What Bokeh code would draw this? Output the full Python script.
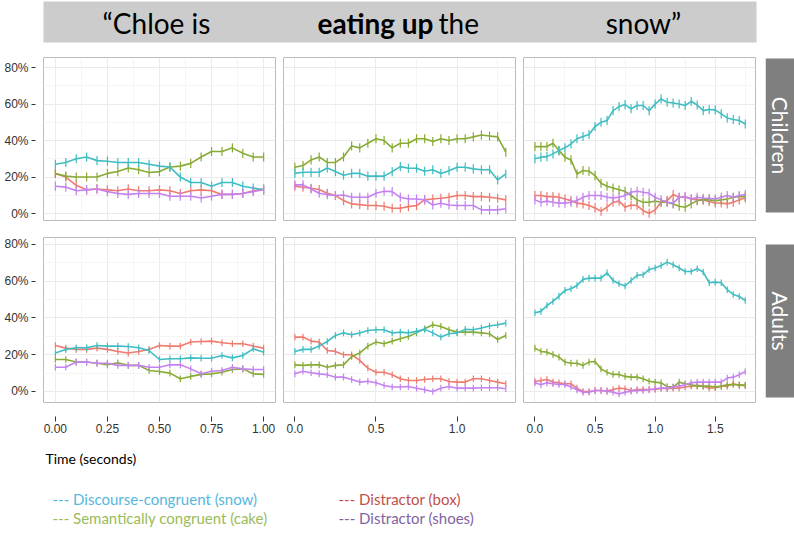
#
# Eye-tracking curves: looks to each picture while hearing "Chloe is eating up the snow"
#
import math
from bokeh.plotting import figure
from bokeh.layouts import column, row
from bokeh.models import Range1d, FixedTicker, PrintfTickFormatter, Label, BoxAnnotation
from bokeh.embed import file_html
from bokeh.resources import INLINE

# Time bins (seconds) for the three windows of the sentence
t_chloe = [0.00, 0.05, 0.10, 0.15, 0.20, 0.25, 0.30, 0.35, 0.40, 0.45, 0.50,
           0.55, 0.60, 0.65, 0.70, 0.75, 0.80, 0.85, 0.90, 0.95, 1.00]
t_eating = [0.00, 0.05, 0.10, 0.15, 0.20, 0.25, 0.30, 0.35, 0.40, 0.45, 0.50,
            0.55, 0.60, 0.65, 0.70, 0.75, 0.80, 0.85, 0.90, 0.95, 1.00,
            1.05, 1.10, 1.15, 1.20, 1.25, 1.30]
t_snow = [0.00, 0.05, 0.10, 0.15, 0.20, 0.25, 0.30, 0.35, 0.40, 0.45, 0.50,
          0.55, 0.60, 0.65, 0.70, 0.75, 0.80, 0.85, 0.90, 0.95, 1.00,
          1.05, 1.10, 1.15, 1.20, 1.25, 1.30, 1.35, 1.40, 1.45, 1.50,
          1.55, 1.60, 1.65, 1.70, 1.75]

# Children - percent looks
ch_chloe_box = [22, 20, 15.5, 13, 13.5, 13, 12.5, 13.5, 12.5, 12.5, 13, 12.5, 11, 12.5, 13, 12.5, 10.5, 10.5, 11, 12.5, 13.5]
ch_chloe_cake = [22, 20.5, 20, 20, 20, 22, 23, 25, 24, 22.5, 23, 25.5, 26, 27.5, 31, 34, 34, 36, 33, 31, 31]
ch_chloe_snow = [27, 28, 30, 31, 29, 28.7, 28, 28, 28, 27, 26, 25.5, 20, 17, 17, 15, 17, 17, 15, 14, 13]
ch_chloe_shoes = [15, 14.5, 12.5, 13, 13.5, 12, 11, 10.5, 11, 11, 11, 9.5, 9.5, 9.5, 8.5, 9.5, 10.5, 10.5, 11, 12, 13]

ch_eating_box = [15, 14.4, 13.9, 13.2, 11.1, 9.9, 7.1, 5.3, 4.9, 4.4, 4.4, 4.0, 2.9, 2.9, 3.8, 4.4, 7.5, 8.0, 8.4, 8.9, 9.9, 9.9, 9.3, 9.3, 8.9, 8.4, 7.5]
ch_eating_cake = [25.4, 26.3, 29.4, 31, 28, 28, 31, 37, 36, 38.5, 41, 40, 36, 38.5, 38.5, 41, 41, 39.5, 41, 40, 41, 41, 42, 43, 42.5, 42, 33.6]
ch_eating_snow = [22, 22.6, 22.6, 22.6, 25, 23, 21, 22, 22, 20.5, 20.5, 20.5, 23, 25.7, 24.8, 24.8, 23.2, 24, 22, 23.5, 25.4, 25.4, 24.5, 24, 24, 18.4, 21.7]
ch_eating_shoes = [15.7, 15.7, 13.5, 11.1, 10.4, 9.9, 10.2, 8.9, 8.9, 8.9, 11.1, 12.2, 12, 8.9, 8, 8, 7.5, 4.7, 5.7, 4.7, 4.4, 4.4, 4.4, 2, 2, 2, 2.6]

ch_snow_box = [9.9, 9.9, 9.3, 9.3, 8.9, 8, 7.1, 5.7, 5.3, 4.4, 3.1, 1.3, 3.5, 6.2, 6.8, 3.5, 4.7, 4.4, 1.6, 0.2, 2, 6.2, 7.1, 10.4, 8.9, 8.9, 8, 7.5, 7.5, 6.6, 5.8, 5.8, 5.3, 6.2, 7.5, 8.6]
ch_snow_cake = [36.7, 36.7, 36.7, 38.5, 34.5, 30.9, 29.4, 21.7, 23.6, 23.2, 20.8, 16.6, 15, 14, 13, 12.2, 9.9, 7.5, 6.2, 6.2, 6.8, 6.2, 6.2, 5.3, 4, 3.5, 5.3, 7.1, 7.5, 7.5, 7.1, 7.5, 8, 8.9, 9.3, 9.3]
ch_snow_snow = [30, 30.9, 31.2, 32.7, 34.5, 36, 38.2, 41, 42.2, 43.3, 47.7, 50, 51, 56.4, 58.6, 59.7, 57.4, 59.2, 59.2, 56.4, 60, 62.8, 61, 60.6, 60, 59.2, 61.5, 59.5, 56.4, 57, 56.8, 54.6, 52.4, 51.5, 51, 49.1]
ch_snow_shoes = [7.5, 6.2, 6.8, 6.2, 5.7, 5.7, 6.2, 7.1, 8.9, 9.9, 9.9, 9.9, 8.9, 8.6, 8.9, 9.9, 11.7, 12.2, 11.7, 11.1, 8.9, 7.5, 6.2, 5.7, 8.9, 9.3, 8, 8.9, 8.4, 8.4, 8, 8.9, 9.9, 8.9, 9.9, 10.4]

# Adults - percent looks
ad_chloe_box = [25, 23.6, 22.9, 22.9, 23.6, 22.9, 21.8, 20.9, 21.8, 22.9, 25, 24.7, 24.7, 26.9, 27.2, 27.4, 26.5, 26, 26, 24.7, 23.6]
ad_chloe_cake = [17.4, 17.4, 16, 16, 15.4, 14.5, 15.6, 14.2, 14.2, 11.4, 10.9, 10, 6.9, 8.2, 9.3, 9.6, 10.5, 12, 12.3, 9.6, 9.3]
ad_chloe_snow = [21, 22.9, 23.8, 23.8, 25, 24.7, 24.7, 24.5, 23.8, 22.3, 17.4, 17.8, 17.8, 18.3, 18.1, 18.1, 19.6, 18.3, 19.6, 23.2, 21.4]
ad_chloe_shoes = [13.2, 13.2, 16, 16, 15.4, 15.4, 14.2, 14.2, 14.2, 13.2, 13.2, 14.5, 14.5, 12.3, 9.6, 11, 11.4, 13.2, 12.3, 12, 12]

ad_eating_box = [29.6, 29.6, 27.4, 26.9, 22.3, 21.8, 20, 20, 16.9, 12.7, 10.5, 10.5, 9.1, 6.9, 6, 6, 6.5, 6.9, 6.9, 5.4, 5.1, 5.1, 6.9, 6.9, 6, 5.1, 4.2]
ad_eating_cake = [14.5, 14.2, 14.5, 14.5, 13.2, 14.2, 14.5, 19, 20.9, 24.7, 26.9, 26, 27.4, 28.7, 29.9, 31.9, 34.1, 36.3, 35.4, 33.6, 32.3, 32.3, 32.3, 31.9, 31.4, 28.3, 30.5]
ad_eating_snow = [21.8, 22.9, 22.9, 24.7, 27.2, 30.5, 31.9, 30.9, 31.8, 33.2, 33.6, 33.6, 31.8, 32.3, 31.9, 32.7, 33.8, 31.9, 29.6, 31.4, 31.9, 33.8, 33.6, 34.5, 35.6, 36.3, 37.2]
ad_eating_shoes = [9.6, 11, 10.2, 9.6, 9.1, 7.8, 7.8, 6.5, 5.1, 5.6, 4.7, 3.3, 2.4, 2.4, 2.7, 1.8, 0.9, 0, 1.8, 2.7, 1.8, 1.8, 1.8, 2, 2, 2, 1.5]

ad_snow_box = [5.4, 6, 6.5, 5.1, 4.7, 4.2, 4.2, 1.8, 0, 0, 0.5, 0.5, 0.2, 1.1, 1.8, 1.5, 0.5, 1.1, 1.1, 1.1, 1.1, 1.8, 1.5, 1.8, 1.8, 2.4, 2.9, 3.3, 2.9, 1.8, 2, 2.9, 2.9, 4.2, 3.3, 3.3]
ad_snow_cake = [23.6, 21.8, 21.4, 20.1, 18.7, 16, 15.4, 15.4, 14.2, 16, 16.3, 12.3, 10.5, 9.3, 9.3, 8.2, 7.8, 7.8, 6.9, 5.6, 5.1, 4.7, 2.7, 2.4, 5.1, 4.2, 3.6, 2.9, 2.9, 2.9, 2.4, 2.9, 3.6, 3.8, 3.6, 3.3]
ad_snow_snow = [42.8, 43.6, 46.8, 49, 51.9, 55, 55.9, 57.7, 61, 61.7, 61.7, 61.7, 64.6, 60.4, 58.6, 57.4, 60.4, 63.2, 63.5, 66.4, 67.2, 68.6, 70.4, 69, 67.2, 65.3, 65.3, 66.8, 65, 59.2, 59.5, 59.2, 55.4, 52.8, 51.7, 49.5]
ad_snow_shoes = [4.7, 3.6, 4.7, 4.2, 3.8, 3.8, 2.4, 0.9, -0.4, -0.4, 0.5, 0.5, 0.2, -0.4, -1.3, -0.4, 0.2, 0.5, 0.5, 0.9, 1.5, 1.8, 1.8, 2.4, 2.9, 3.6, 4.7, 5.1, 5.1, 5.1, 5.1, 5.1, 7.3, 7.8, 9.1, 10.9]

# Standard error (percentage points) of each group
se_children = 2.5
se_adults = 1.8

# Header words, strip labels and legend
header_words = ["\u201cChloe is", "eating up", "the", "snow\u201d"]
groups = ["Children", "Adults"]
legend_names = ["--- Discourse-congruent (snow)", "--- Semantically congruent (cake)",
                "--- Distractor (box)", "--- Distractor (shoes)"]

# ggplot-like hues: box, cake, snow, shoes
line_colors = ["#EF7B6E", "#87AB33", "#3EBDC3", "#C482F0"]
legend_colors = ["#55B8DB", "#9BBB59", "#C0504D", "#8064A2"]

TICK_FONT = "Liberation Sans"
TEXT_FONT = "Lato"

# frame placement of the two facet rows (page pixels): fig top, frame top, frame bottom, fig bottom
ROW1 = (50, 57, 220, 229)
ROW2 = (229, 237, 402, 438)
STRIP1 = (58, 212)
STRIP2 = (244, 397)


def make_panel(times, series, se, xr, xticks, xminor, xfmt, yr, width, rowpos,
               left, right, show_y, show_x):
    top = rowpos[1] - rowpos[0]
    bottom = rowpos[3] - rowpos[2]
    p = figure(width=width, height=rowpos[3] - rowpos[0], x_range=Range1d(*xr), y_range=Range1d(*yr),
               output_backend="svg", toolbar_location=None,
               x_axis_location="below" if show_x else None,
               y_axis_location="left" if show_y else None,
               min_border_left=left, min_border_right=right,
               min_border_top=top, min_border_bottom=bottom)
    p.outline_line_color = "#bbbbbb"
    p.outline_line_width = 1

    # grid like theme_bw
    p.xgrid.ticker = FixedTicker(ticks=xticks, minor_ticks=xminor)
    p.ygrid.ticker = FixedTicker(ticks=[0, 20, 40, 60, 80], minor_ticks=[10, 30, 50, 70])
    p.grid.grid_line_color = "#ebebeb"
    p.grid.minor_grid_line_color = "#f5f5f5"

    # axes (only on the outer panels)
    if show_y:
        p.yaxis.ticker = FixedTicker(ticks=[0, 20, 40, 60, 80])
        p.yaxis.formatter = PrintfTickFormatter(format="%d%%")
        p.yaxis.major_tick_in = -8
        p.yaxis.major_tick_out = 12
        p.yaxis.major_label_standoff = 3
    if show_x:
        p.xaxis.ticker = FixedTicker(ticks=xticks)
        p.xaxis.formatter = PrintfTickFormatter(format=xfmt)
        p.xaxis.major_tick_in = -14
        p.xaxis.major_tick_out = 19
        p.xaxis.major_label_standoff = 2
    if show_x or show_y:
        p.axis.axis_line_color = None
        p.axis.minor_tick_line_color = None
        p.axis.major_tick_line_color = "#333333"
        p.axis.major_label_text_color = "#333333"
        p.axis.major_label_text_font = TICK_FONT
        p.axis.major_label_text_font_size = "12px"

    # lines with error bars
    for vals, c in zip(series, line_colors):
        lo = [v - se for v in vals]
        hi = [v + se for v in vals]
        p.segment(x0=times, y0=lo, x1=times, y1=hi, line_color=c, line_width=1.2)
        p.line(times, vals, line_color=c, line_width=1.6)
    return p


def make_strip(text, rowpos, box):
    # same frame as the panels (rows align frames), pixel-like y range
    s = figure(width=35, height=rowpos[3] - rowpos[0], x_range=Range1d(0, 1),
               y_range=Range1d(rowpos[2], rowpos[1]),
               output_backend="svg", toolbar_location=None,
               x_axis_location=None, y_axis_location=None,
               min_border_left=6, min_border_right=0,
               min_border_top=rowpos[1] - rowpos[0], min_border_bottom=rowpos[3] - rowpos[2])
    s.grid.visible = False
    s.outline_line_color = None
    s.add_layout(BoxAnnotation(bottom=box[1], top=box[0], fill_color="#7f7f7f", fill_alpha=1.0,
                               line_color=None))
    s.add_layout(Label(x=0.5, y=(box[0] + box[1]) / 2, text=text, angle=-math.pi / 2,
                       text_align="center", text_baseline="middle", text_color="white",
                       text_font=TEXT_FONT, text_font_size="21px"))
    return s


# x settings per window
windows = [
    (t_chloe, (-0.057, 1.057), [0, 0.25, 0.5, 0.75, 1.0], [0.125, 0.375, 0.625, 0.875], "%.2f"),
    (t_eating, (-0.07, 1.36), [0, 0.5, 1.0], [0.25, 0.75, 1.25], "%.1f"),
    (t_snow, (-0.095, 1.835), [0, 0.5, 1.0, 1.5], [0.25, 0.75, 1.25, 1.75], "%.1f"),
]
children = [
    [ch_chloe_box, ch_chloe_cake, ch_chloe_snow, ch_chloe_shoes],
    [ch_eating_box, ch_eating_cake, ch_eating_snow, ch_eating_shoes],
    [ch_snow_box, ch_snow_cake, ch_snow_snow, ch_snow_shoes],
]
adults = [
    [ad_chloe_box, ad_chloe_cake, ad_chloe_snow, ad_chloe_shoes],
    [ad_eating_box, ad_eating_cake, ad_eating_snow, ad_eating_shoes],
    [ad_snow_box, ad_snow_cake, ad_snow_snow, ad_snow_shoes],
]

row1 = []
row2 = []
for i, (times, xr, xt, xm, xf) in enumerate(windows):
    first = (i == 0)
    w = 279 if first else 240
    lb = 43 if first else 4
    row1.append(make_panel(times, children[i], se_children, xr, xt, xm, xf, (-3.8, 85.5),
                           w, ROW1, lb, 4, first, False))
    row2.append(make_panel(times, adults[i], se_adults, xr, xt, xm, xf, (-6.0, 83.8),
                           w, ROW2, lb, 4, first, True))
row1.append(make_strip(groups[0], ROW1, STRIP1))
row2.append(make_strip(groups[1], ROW2, STRIP2))

# Header bar with the sentence (x data units = page pixels)
head = figure(width=794, height=50, x_range=Range1d(43, 756), y_range=Range1d(42, 1),
              output_backend="svg", toolbar_location=None,
              x_axis_location=None, y_axis_location=None,
              min_border_left=43, min_border_right=38, min_border_top=1, min_border_bottom=8)
head.grid.visible = False
head.outline_line_color = None
head.background_fill_color = "#cccccc"
head_x = [156, 433, 438, 643]
head_align = ["center", "right", "left", "center"]
head_style = ["normal", "bold", "normal", "normal"]
for word, x, al, st in zip(header_words, head_x, head_align, head_style):
    head.add_layout(Label(x=x, y=22, text=word, text_align=al, text_baseline="middle",
                          text_font=TEXT_FONT, text_font_size="28px", text_font_style=st,
                          text_color="black"))

# Footer with axis title and legend (same side borders as the header, so columns align)
foot = figure(width=794, height=94, x_range=Range1d(43, 756), y_range=Range1d(532, 438),
              output_backend="svg", toolbar_location=None,
              x_axis_location=None, y_axis_location=None,
              min_border_left=43, min_border_right=38, min_border_top=0, min_border_bottom=0)
foot.grid.visible = False
foot.outline_line_color = None
foot.add_layout(Label(x=45, y=458, text="Time (seconds)", text_baseline="middle",
                      text_font=TEXT_FONT, text_font_size="14px", text_color="black"))
leg_pos = [(52, 498), (52, 517), (338, 498), (338, 517)]
for name, (x, y), c in zip(legend_names, leg_pos, legend_colors):
    foot.add_layout(Label(x=x, y=y, text=name, text_baseline="middle",
                          text_font=TEXT_FONT, text_font_size="15px", text_color=c))

p = column(head, row(*row1), row(*row2), foot)

open("out.html", "w").write(file_html(p, INLINE))
